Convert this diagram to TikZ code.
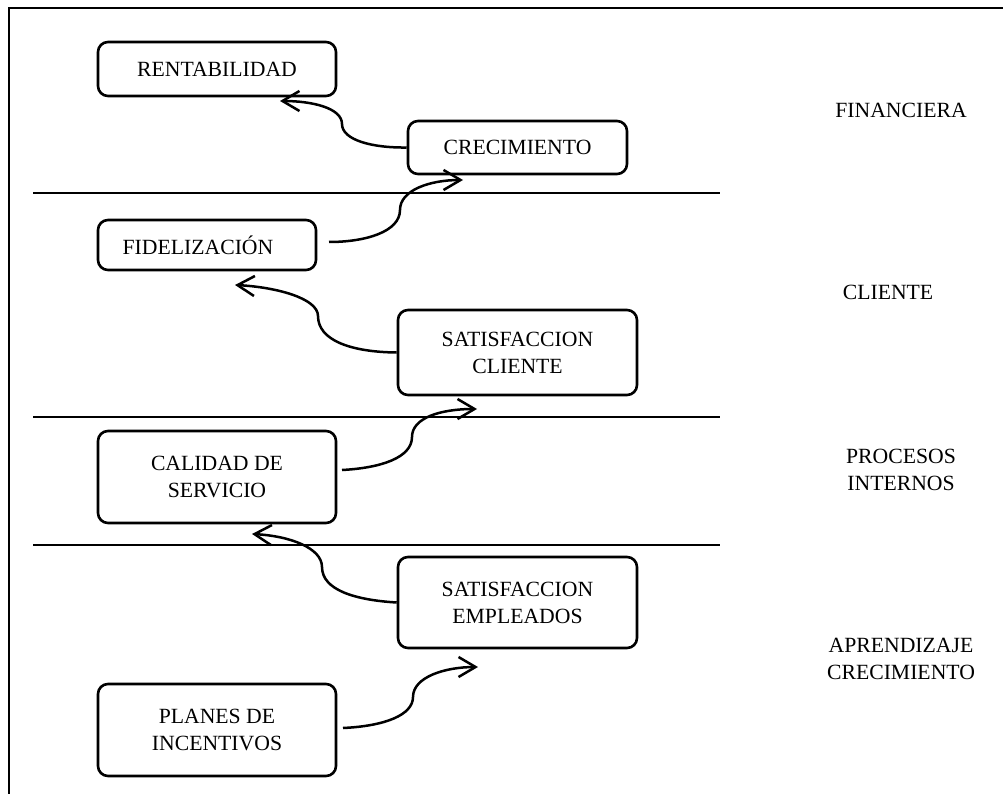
\documentclass[tikz,border=0pt]{standalone}
\usepackage{fontspec}
\setmainfont{Liberation Serif}
\usetikzlibrary{arrows.meta,calc}
\begin{document}
\begin{tikzpicture}[x=1pt,y=-1pt,
  every node/.style={font=\fontsize{21.7}{27}\selectfont},
  objbox/.style={draw, line width=2.6pt, rounded corners=10pt, align=center, inner sep=0pt},
  sepline/.style={line width=1.8pt},
  frameline/.style={line width=2pt},
  link/.style={line width=2.5pt, -{Straight Barb[length=17pt,width=20pt]}},
  lanelabel/.style={align=center}]
\useasboundingbox (0,0) rectangle (1003,794);

% page frame (top and left edges)
\coordinate (ftl) at (9,8);
\coordinate (ftr) at (1003,8);
\coordinate (fbl) at (9,794);
\draw[frameline] (fbl) -- (ftl) -- (ftr);

% lane separators
\coordinate (s1a) at (33,193);  \coordinate (s1b) at (720,193);
\coordinate (s2a) at (33,417);  \coordinate (s2b) at (720,417);
\coordinate (s3a) at (33,545);  \coordinate (s3b) at (720,545);
\draw[sepline] (s1a) -- (s1b);
\draw[sepline] (s2a) -- (s2b);
\draw[sepline] (s3a) -- (s3b);

% objectives
\node[objbox, minimum width=238pt, minimum height=54pt] (rent) at (217,69) {RENTABILIDAD};
\node[objbox, minimum width=219pt, minimum height=53pt] (crec) at (517.5,147.5) {CRECIMIENTO};
\node[objbox, minimum width=218pt, minimum height=50pt] (fide) at (207,245) {FIDELIZACIÓN\hspace*{18pt}};
\node[objbox, minimum width=239pt, minimum height=85pt] (sc) at (517.5,352.5) {SATISFACCION\\CLIENTE};
\node[objbox, minimum width=238pt, minimum height=92pt] (cal) at (217,477) {CALIDAD DE\\SERVICIO};
\node[objbox, minimum width=239pt, minimum height=91pt] (se) at (517.5,602.5) {SATISFACCION\\EMPLEADOS};
\node[objbox, minimum width=238pt, minimum height=92pt] (plan) at (217,730) {PLANES DE\\INCENTIVOS};

% perspective labels
\node[lanelabel] (lfin) at (901,110) {FINANCIERA};
\node[lanelabel] (lcli) at (888,292) {CLIENTE};
\node[lanelabel] (lpro) at (901,470) {PROCESOS\\INTERNOS};
\node[lanelabel] (lapr) at (901,659) {APRENDIZAJE\\CRECIMIENTO};

% connector ends and bends
\coordinate (rentin) at (280,101);
\coordinate (b1) at (342,124);
\coordinate (fideout) at (329,242);
\coordinate (b2) at (400,210);
\coordinate (crecin) at (463,180);
\coordinate (fidein) at (235,285);
\coordinate (b3) at (318,316);
\coordinate (calout) at (342,470);
\coordinate (b4) at (412,437);
\coordinate (scin) at (477,409);
\coordinate (calin) at (252,534);
\coordinate (b5) at (322,567);
\coordinate (planout) at (343,728);
\coordinate (b6) at (413,697);
\coordinate (sein) at (478,667);

% cause-effect links
\draw[link] (crec.west) .. controls (372,148) and (342,140) .. (b1)
  .. controls (342,108) and (312,101) .. (rentin);
\draw[link] (fideout) .. controls (365,242) and (400,232) .. (b2)
  .. controls (400,190) and (430,180) .. (crecin);
\draw[link] (sc.west) .. controls (350,352) and (318,340) .. (b3)
  .. controls (318,298) and (275,287) .. (fidein);
\draw[link] (calout) .. controls (380,468) and (412,458) .. (b4)
  .. controls (412,418) and (440,409) .. (scin);
\draw[link] (se.west) .. controls (355,600) and (322,590) .. (b5)
  .. controls (322,548) and (290,536) .. (calin);
\draw[link] (planout) .. controls (385,726) and (413,715) .. (b6)
  .. controls (413,677) and (445,667) .. (sein);
\end{tikzpicture}
\end{document}
